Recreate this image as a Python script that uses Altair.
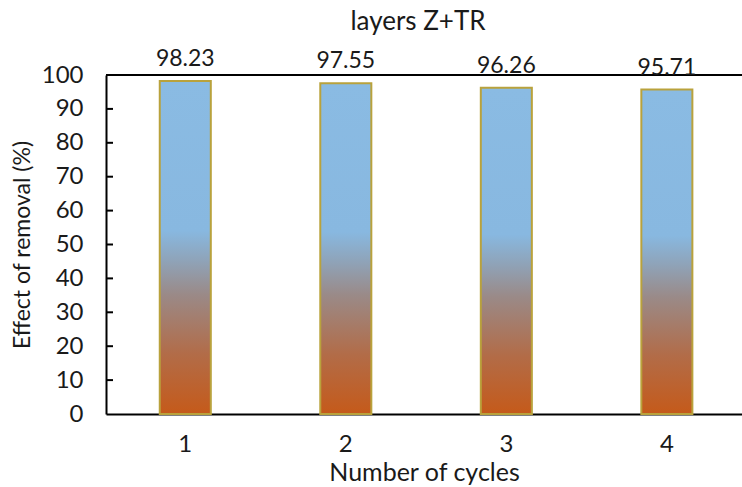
import altair as alt
import pandas as pd

# Removal efficiency for each regeneration cycle
cycles = ["1", "2", "3", "4"]
removal = [98.23, 97.55, 96.26, 95.71]
y_ticks = [0, 10, 20, 30, 40, 50, 60, 70, 80, 90, 100]
inner_ticks = [10, 20, 30, 40, 50, 60, 70, 80, 90]

df = pd.DataFrame({"cycle": cycles, "removal": removal})
ticks_df = pd.DataFrame({"t": inner_ticks})

FONT = "Lato"
INK = "#1a1a1a"

x_scale = alt.Scale(paddingInner=0.682, paddingOuter=0.322, align=0.52)
y_scale = alt.Scale(domain=[0, 100], nice=False)

# one axis definition shared by every layer so the merged axes agree
x_axis = alt.Axis(
    title="Number of cycles",
    labelAngle=0,
    ticks=False,
    labelPadding=18,
    titlePadding=4,
    titleFontSize=25,
    domainColor="black",
    domainWidth=2,
)
y_axis = alt.Axis(
    title="Effect of removal (%)",
    values=y_ticks,
    ticks=False,
    grid=False,
    labelOverlap=False,
    labelPadding=23,
    titlePadding=7,
    titleFontSize=23,
    domainColor="black",
    domainWidth=2,
)

fill = alt.Gradient(
    gradient="linear",
    x1=0, x2=0, y1=1, y2=0,
    stops=[
        alt.GradientStop(offset=0.0, color="#C55A1A"),
        alt.GradientStop(offset=0.18, color="#B26C48"),
        alt.GradientStop(offset=0.36, color="#9A8A88"),
        alt.GradientStop(offset=0.46, color="#8FA3B8"),
        alt.GradientStop(offset=0.55, color="#88B8E0"),
        alt.GradientStop(offset=1.0, color="#8ABBE3"),
    ],
)

base = alt.Chart(df)

bars = base.mark_bar(color=fill, stroke="#B9A23C", strokeWidth=2).encode(
    x=alt.X("cycle:N", scale=x_scale, sort=cycles, axis=x_axis),
    y=alt.Y("removal:Q", scale=y_scale, axis=y_axis),
)

labels = base.mark_text(
    dy=-15, baseline="alphabetic", fontSize=23, font=FONT, color=INK
).encode(
    x=alt.X("cycle:N", scale=x_scale, sort=cycles, axis=x_axis),
    y=alt.Y("removal:Q", scale=y_scale, axis=y_axis),
    text=alt.Text("removal:Q", format=".2f"),
)

# short inward tick marks on the value axis
inner = alt.Chart(ticks_df).mark_rule(color="black", strokeWidth=2).encode(
    y=alt.Y("t:Q", scale=y_scale, axis=y_axis),
    x=alt.value(0),
    x2=alt.value(7),
)

# top edge of the plot frame
top_edge = alt.Chart(pd.DataFrame({"v": [100]})).mark_rule(
    color="black", strokeWidth=2
).encode(y=alt.Y("v:Q", scale=y_scale, axis=y_axis))

chart = (
    alt.layer(bars, inner, top_edge, labels)
    .properties(
        width=636,
        height=339,
        autosize=alt.AutoSizeParams(type="none"),
        padding={"left": 106, "top": 75, "right": 0, "bottom": 73},
        title=alt.TitleParams(
            "layers Z+TR",
            fontSize=26,
            font=FONT,
            fontWeight="normal",
            color=INK,
            anchor="middle",
            dx=-6,
            offset=13,
        ),
    )
    .configure_view(stroke=None)
    .configure_axis(
        labelFont=FONT,
        titleFont=FONT,
        labelFontSize=24,
        titleFontWeight="normal",
        labelColor=INK,
        titleColor=INK,
    )
)

chart.save("out.html", embed_options={"renderer": "svg", "actions": False})
